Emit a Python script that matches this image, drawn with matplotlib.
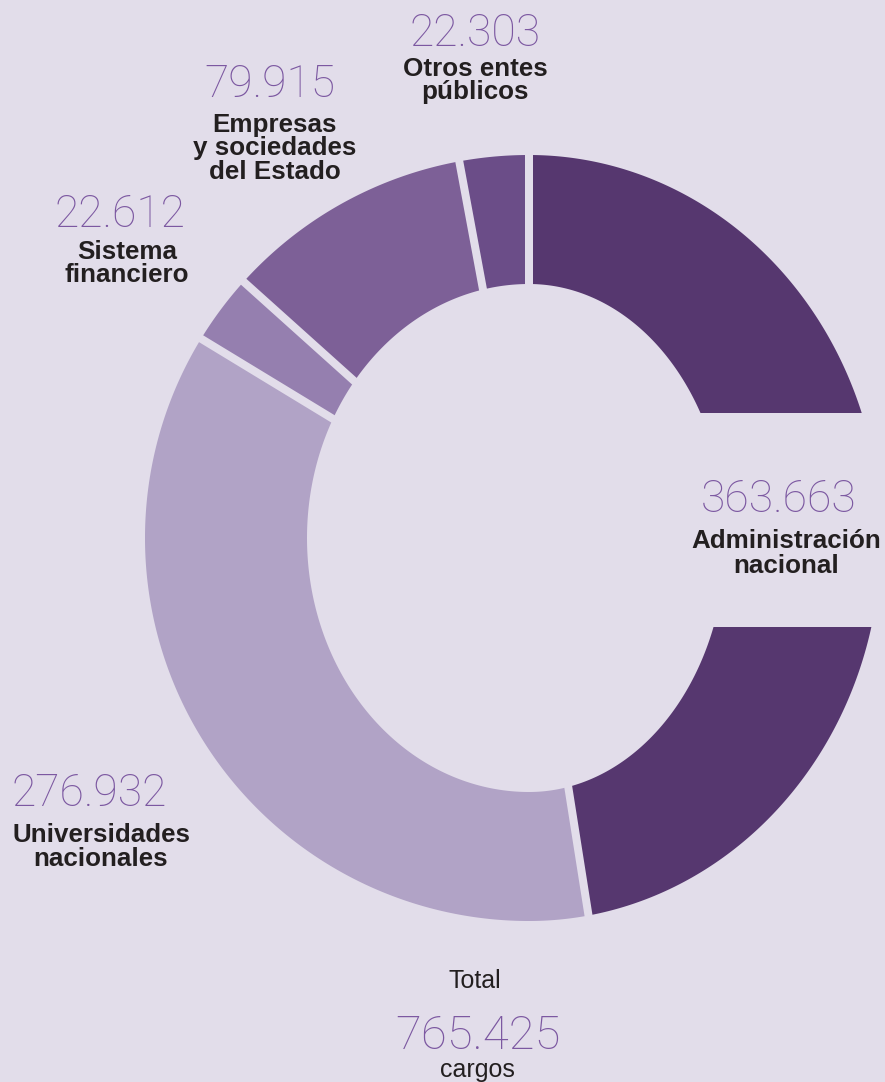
import matplotlib
matplotlib.use("Agg")
import matplotlib.pyplot as plt
import numpy as np
from matplotlib.patches import Polygon, Rectangle

# --- data -----------------------------------------------------------------
categories = [
    "Administración\nnacional",
    "Universidades\nnacionales",
    "Sistema\nfinanciero",
    "Empresas\ny sociedades\ndel Estado",
    "Otros entes\npúblicos",
]
values = [363663, 276932, 22612, 79915, 22303]
total_title = "Total"
total_unit = "cargos"

# --- styles ---------------------------------------------------------------
seg_colors = ["#56376f", "#b1a3c6", "#957faf", "#7d6097", "#6b4d88"]
BG = "#e2ddea"
NUM_COLOR = "#7c58a1"
TXT_COLOR = "#231f20"
NUM_FONT = ["Roboto", "DejaVu Sans"]
TXT_FONT = ["Liberation Sans", "DejaVu Sans"]

# --- layout (pixels, figure is 885 x 1082) --------------------------------
W, H = 885, 1082
CX, CY = 529, 538
OUTER = (384, 352, 383)  # left x-radius, right x-radius, y-radius
INNER = (222, 197, 254)
GAP_PX = 8
# number x, number baseline, label x, first label baseline, line step
label_pos = [
    (779, 512, 786, 548, 25),
    (89, 806, 101, 842, 24),
    (120, 227, 127, 259, 23),
    (270, 97, 275, 132, 23.5),
    (475, 46, 475, 76, 23.5),
]


def fmt(v):
    return f"{v:,}".replace(",", ".")


def ring_radius(phi, rx_left, rx_right, ry):
    c, s = np.cos(phi), np.sin(phi)
    rx = np.where(c < 0, rx_left, rx_right)
    return 1.0 / np.sqrt((c / rx) ** 2 + (s / ry) ** 2)


def wedge_xy(t1, t2):
    """Ring segment between math angles t1 -> t2 (degrees, clockwise)."""
    phi = np.radians(np.linspace(t1, t2, 400))
    ro = ring_radius(phi, *OUTER)
    back = phi[::-1]
    ri = ring_radius(back, *INNER)
    xs = np.concatenate([CX + ro * np.cos(phi), CX + ri * np.cos(back)])
    ys = np.concatenate([CY - ro * np.sin(phi), CY - ri * np.sin(back)])
    return np.column_stack([xs, ys])


fig = plt.figure(figsize=(W / 100, H / 100), dpi=100, facecolor=BG)
ax = fig.add_axes([0, 0, 1, 1])
ax.set_xlim(0, W)
ax.set_ylim(H, 0)
ax.set_facecolor(BG)
ax.axis("off")

total = sum(values)
fracs = np.array(values) / total
edges = 90 - 360 * np.concatenate([[0], np.cumsum(fracs)])

for i, col in enumerate(seg_colors):
    ax.add_patch(Polygon(wedge_xy(edges[i], edges[i + 1]), closed=True,
                         facecolor=col, edgecolor="none", zorder=1))

# gaps between the segments
for t in edges[:-1]:
    a = np.radians(t)
    ax.plot([CX, CX + 430 * np.cos(a)], [CY, CY - 430 * np.sin(a)],
            color=BG, lw=GAP_PX * 0.72, solid_capstyle="butt", zorder=2)

# cut-out on the right for the main label
ax.add_patch(Rectangle((600, 413), W - 600, 214, facecolor=BG,
                       edgecolor="none", zorder=3))

for cat, v, (nx, ny, lx, ly, step) in zip(categories, values, label_pos):
    ax.text(nx, ny, fmt(v), ha="center", va="baseline", fontsize=32,
            family=NUM_FONT, fontweight="light", color=NUM_COLOR, zorder=4)
    for k, line in enumerate(cat.split("\n")):
        ax.text(lx, ly + k * step, line, ha="center", va="baseline",
                fontsize=18.7, family=TXT_FONT, fontweight="bold",
                color=TXT_COLOR, zorder=4)

ax.text(475, 988, total_title, ha="center", va="baseline", fontsize=18,
        family=TXT_FONT, color=TXT_COLOR)
ax.text(478, 1049, fmt(total), ha="center", va="baseline", fontsize=34,
        family=NUM_FONT, fontweight="light", color=NUM_COLOR)
ax.text(477, 1077, total_unit, ha="center", va="baseline", fontsize=18,
        family=TXT_FONT, color=TXT_COLOR)

fig.savefig("out.png", dpi=100, facecolor=BG)
